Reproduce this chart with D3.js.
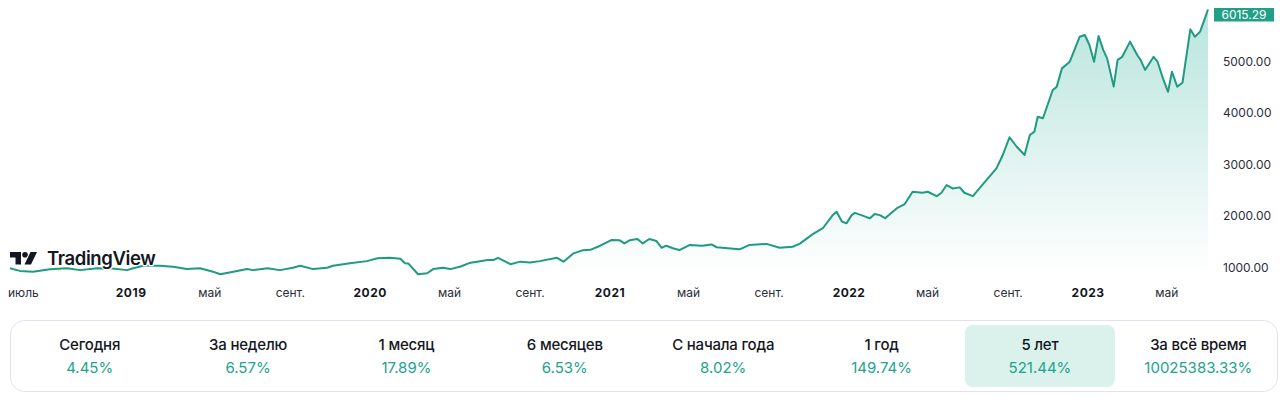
<!DOCTYPE html>
<html><head><meta charset="utf-8">
<script src="https://cdn.jsdelivr.net/npm/d3@7"></script>
<style>
html,body{margin:0;padding:0;background:#fff;}
svg{display:block;font-family:Inter,"Noto Sans",sans-serif;}
</style></head>
<body><svg id="c" width="1280" height="396"></svg>
<script>
const dates = ["2018-06-27","2018-07-12","2018-08-01","2018-08-27","2018-09-22","2018-10-12","2018-11-07","2018-11-30","2018-12-23","2019-01-01","2019-01-16","2019-02-11","2019-03-03","2019-03-24","2019-04-13","2019-05-03","2019-05-14","2019-06-03","2019-06-24","2019-07-03","2019-07-25","2019-08-13","2019-09-02","2019-09-13","2019-10-03","2019-10-24","2019-11-02","2019-11-28","2019-12-24","2020-01-09","2020-01-28","2020-02-13","2020-02-20","2020-02-25","2020-03-11","2020-03-25","2020-04-03","2020-04-18","2020-04-29","2020-05-14","2020-05-30","2020-06-09","2020-06-25","2020-07-04","2020-07-11","2020-07-30","2020-08-14","2020-08-29","2020-09-13","2020-10-09","2020-10-19","2020-11-03","2020-11-17","2020-11-29","2020-12-14","2020-12-31","2021-01-13","2021-01-20","2021-01-28","2021-02-09","2021-02-17","2021-02-27","2021-03-10","2021-03-18","2021-03-25","2021-04-04","2021-04-14","2021-04-30","2021-05-19","2021-06-02","2021-06-10","2021-07-10","2021-07-15","2021-07-30","2021-08-25","2021-09-14","2021-10-04","2021-10-15","2021-11-03","2021-11-19","2021-12-04","2021-12-10","2021-12-18","2021-12-25","2022-01-02","2022-01-07","2022-01-25","2022-01-30","2022-02-06","2022-02-14","2022-02-22","2022-03-12","2022-03-24","2022-04-05","2022-04-20","2022-04-28","2022-05-12","2022-05-19","2022-05-27","2022-06-05","2022-06-16","2022-06-23","2022-07-06","2022-07-16","2022-07-27","2022-08-11","2022-08-20","2022-08-31","2022-09-11","2022-09-23","2022-10-01","2022-10-08","2022-10-13","2022-10-21","2022-11-05","2022-11-11","2022-11-19","2022-12-01","2022-12-16","2022-12-24","2022-12-31","2023-01-07","2023-01-14","2023-01-21","2023-01-27","2023-02-06","2023-02-12","2023-02-19","2023-03-03","2023-03-14","2023-03-19","2023-03-26","2023-04-08","2023-04-14","2023-04-23","2023-04-30","2023-05-06","2023-05-14","2023-05-22","2023-06-03","2023-06-10","2023-06-18","2023-06-24","2023-06-30"];
const values = [980,930,915,960,980,945,980,975,945,980,1030,1030,1010,965,980,915,865,915,965,945,980,945,990,1030,965,990,1030,1080,1120,1175,1185,1165,1080,1075,865,885,965,990,965,1010,1090,1110,1140,1140,1185,1060,1110,1095,1120,1185,1110,1270,1330,1340,1420,1530,1525,1465,1525,1550,1465,1550,1510,1380,1420,1370,1335,1435,1420,1445,1390,1355,1350,1435,1455,1380,1400,1460,1640,1760,2015,2080,1890,1855,2015,2060,1975,1955,2035,2015,1955,2150,2230,2470,2450,2470,2385,2450,2600,2535,2555,2450,2385,2535,2700,2925,3165,3530,3345,3185,3575,3640,3930,3900,4450,4510,4870,5000,5485,5520,5325,5000,5500,5230,5065,4515,5035,5095,5390,5130,5035,4840,5095,5000,4645,4415,4805,4515,4590,5630,5485,5585,5800,6015.29];
const xTickDates = ["2018-07-01","2019-01-01","2019-05-01","2019-09-01","2020-01-01","2020-05-01","2020-09-01","2021-01-01","2021-05-01","2021-09-01","2022-01-01","2022-05-01","2022-09-01","2023-01-01","2023-05-01"];
const xTickLabels = ["июль","2019","май","сент.","2020","май","сент.","2021","май","сент.","2022","май","сент.","2023","май"];
const yTicks = [1000,2000,3000,4000,5000];
const periodNames = ["Сегодня","За неделю","1 месяц","6 месяцев","С начала года","1 год","5 лет","За всё время"];
const periodReturns = ["4.45%","6.57%","17.89%","6.53%","8.02%","149.74%","521.44%","10025383.33%"];
const selectedPeriod = "5 лет";

const parse = d3.timeParse("%Y-%m-%d");
const data = dates.map((d,i)=>({date:parse(d), value:values[i]}));
const svg = d3.select("#c");
const lineColor = "#1f9b81";

const x = d3.scaleTime().domain([parse("2018-06-27"), parse("2023-06-30")]).range([10, 1208]);
const y = d3.scaleLinear().domain([1000, 5000]).range([267.3, 61.7]);
const baseY = 274;

const defs = svg.append("defs");
const grad = defs.append("linearGradient").attr("id","g").attr("x1",0).attr("y1",0).attr("x2",0).attr("y2",1)
  .attr("gradientUnits","userSpaceOnUse").attr("x1",0).attr("x2",0).attr("y1",8).attr("y2",baseY);
grad.append("stop").attr("offset",0).attr("stop-color","#22ab94").attr("stop-opacity",0.32);
grad.append("stop").attr("offset",1).attr("stop-color","#22ab94").attr("stop-opacity",0.0);

svg.append("path").datum(data)
  .attr("d", d3.area().x(d=>x(d.date)).y0(baseY).y1(d=>y(d.value)))
  .attr("fill","url(#g)");
svg.append("path").datum(data)
  .attr("d", d3.line().x(d=>x(d.date)).y(d=>y(d.value)))
  .attr("fill","none").attr("stroke",lineColor).attr("stroke-width",2).attr("stroke-linejoin","round");

// TradingView logo
const logo = svg.append("g").attr("transform","translate(10,252)");
logo.append("path").attr("d","M0 0 H11 V12.5 H5.5 V5.5 H0 Z").attr("fill","#131722").attr("stroke","#fff").attr("stroke-width",1.5).attr("paint-order","stroke");
logo.append("circle").attr("cx",15).attr("cy",2.8).attr("r",2.8).attr("fill","#131722");
logo.append("path").attr("d","M20.5 0 H27 L21 12.5 H14.5 Z").attr("fill","#131722").attr("stroke","#fff").attr("stroke-width",1.5).attr("paint-order","stroke");
logo.append("text").attr("x",37).attr("y",13).text("TradingView")
  .attr("font-size",18.5).attr("font-weight",600).attr("fill","#131722").attr("letter-spacing","-0.4")
  .attr("stroke","#fff").attr("stroke-width",2.5).attr("paint-order","stroke");

// x axis labels
xTickDates.forEach((d,i)=>{
  const lab = xTickLabels[i];
  const isYear = /^\d{4}$/.test(lab);
  let px = x(parse(d));
  const t = svg.append("text").attr("y",297).text(lab)
    .attr("font-size",12).attr("fill", isYear ? "#131722" : "#2a2e39")
    .attr("font-weight", isYear ? 700 : 400)
    .attr("letter-spacing", isYear ? "0.5" : "0");
  if (i===0) t.attr("x",8).attr("text-anchor","start");
  else t.attr("x",px - 2).attr("text-anchor","middle");
});

// y axis labels
yTicks.forEach(v=>{
  svg.append("text").attr("x",1223).attr("y",y(v)).attr("dy","0.35em")
    .text(v.toFixed(2)).attr("font-size",12).attr("fill","#2a2e39");
});
const last = data[data.length-1];
const by = Math.max(8, y(last.value)-6.5);
svg.append("rect").attr("x",1214).attr("y",by).attr("width",60).attr("height",13.5).attr("fill","#22a086");
svg.append("text").attr("x",1244).attr("y",by+6.9).attr("dy","0.35em").attr("text-anchor","middle")
  .text(last.value.toFixed(2)).attr("font-size",12).attr("fill","#fff");

// bottom panel
svg.append("rect").attr("x",10.5).attr("y",320.5).attr("width",1267).attr("height",71).attr("rx",14)
  .attr("fill","#fff").attr("stroke","#e0e3eb");
const colW = 1267/8;
periodNames.forEach((n,i)=>{
  const cx = 10.5 + colW*(i+0.5);
  if (n===selectedPeriod) {
    svg.append("rect").attr("x",cx-75).attr("y",325).attr("width",150).attr("height",62).attr("rx",8).attr("fill","#daf1ec");
  }
  svg.append("text").attr("x",cx).attr("y",345).attr("dy","0.35em").attr("text-anchor","middle")
    .text(n).attr("font-size",15).attr("font-weight",500).attr("fill","#131722").attr("letter-spacing","-0.2");
  svg.append("text").attr("x",cx).attr("y",368).attr("dy","0.35em").attr("text-anchor","middle")
    .text(periodReturns[i]).attr("font-size",15).attr("fill","#22a38b");
});
</script>
</body></html>
